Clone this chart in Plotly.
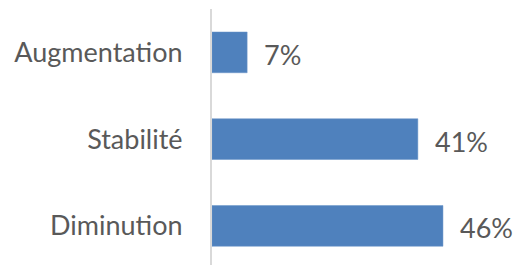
import plotly.graph_objects as go

categories = ["Diminution", "Stabilité", "Augmentation"]
values = [46, 41, 7]
labels = ["46%", "41%", "7%"]

font_family = "Lato, Carlito, Calibri, sans-serif"
text_color = "#595959"

fig = go.Figure()
fig.add_trace(go.Bar(
    y=categories,
    x=values,
    orientation="h",
    width=0.47,
    marker=dict(color="#4F81BD", line=dict(color="#6b95c8", width=0.5)),
    hoverinfo="skip",
))

for c, v, t in zip(categories, values, labels):
    fig.add_annotation(
        x=v, y=c, text=t, showarrow=False,
        xanchor="left", yanchor="middle", xshift=15, yshift=-2,
        font=dict(family=font_family, size=27, color=text_color),
    )

fig.update_layout(
    width=514, height=265,
    margin=dict(l=212, r=0, t=9, b=0, autoexpand=False),
    paper_bgcolor="white", plot_bgcolor="white",
    showlegend=False,
    xaxis=dict(range=[0, 60.15], visible=False, fixedrange=True, automargin=False),
    yaxis=dict(
        type="category",
        range=[-0.451, 2.5],
        automargin=False,
        showline=True, linecolor="#d9d9d9", linewidth=2,
        showgrid=False, zeroline=False,
        ticks="", ticklabelstandoff=22,
        tickfont=dict(family=font_family, size=27, color=text_color),
        fixedrange=True,
    ),
)

fig.write_html(
    "out.html",
    config={"displayModeBar": False},
    post_script="document.body.style.margin='0';document.body.style.overflow='hidden';",
)
